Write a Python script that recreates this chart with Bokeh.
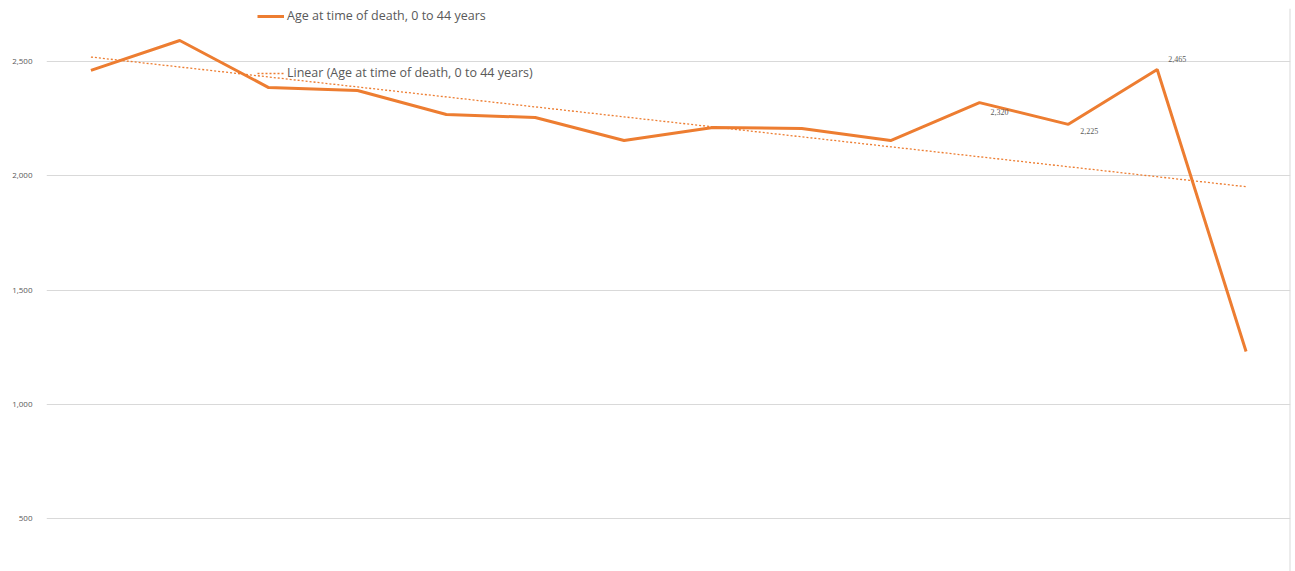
import numpy as np
from bokeh.plotting import figure
from bokeh.models import (ColumnDataSource, Legend, LegendItem, LabelSet, Span,
                          Range1d, NumeralTickFormatter, FixedTicker)
from bokeh.embed import file_html
from bokeh.resources import INLINE

# ---- data ----
period_index = list(range(1, 15))
deaths_0_44 = [2461, 2592, 2386, 2373, 2268, 2255, 2154, 2211, 2207, 2154, 2320, 2225, 2465, 1231]
labelled_points = [10, 11, 12]          # indices of points carrying a data label
label_dx = [11, 12, 11]
label_dy = [-9, -7, 11]
y_ticks = [500, 1000, 1500, 2000, 2500]

series_name = "Age at time of death, 0 to 44 years"
trend_name = "Linear (Age at time of death, 0 to 44 years)"

ORANGE = "#ED7D31"
GREY_TXT = "#595959"
GRID = "#D9D9D9"
FONT = "Open Sans"

# linear trendline (least squares)
x_arr = np.array(period_index, dtype=float)
slope, icpt = np.polyfit(x_arr, np.array(deaths_0_44, dtype=float), 1)
trend = slope * x_arr + icpt

src = ColumnDataSource(dict(x=period_index, y=deaths_0_44))
tsrc = ColumnDataSource(dict(x=period_index, y=trend))
lsrc = ColumnDataSource(dict(
    x=[period_index[i] for i in labelled_points],
    y=[deaths_0_44[i] for i in labelled_points],
    txt=[f"{deaths_0_44[i]:,}" for i in labelled_points],
    dx=label_dx, dy=label_dy,
))

p = figure(width=1292, height=571, output_backend="svg", toolbar_location=None,
           x_range=Range1d(0.5, 14.5), y_range=Range1d(268, 2732),
           min_border_left=46, min_border_right=2, min_border_top=8, min_border_bottom=0)
p.outline_line_color = None
p.background_fill_color = "white"
p.border_fill_color = "white"

p.xaxis.visible = False
p.xgrid.visible = False
p.yaxis.ticker = FixedTicker(ticks=y_ticks)
p.yaxis.formatter = NumeralTickFormatter(format="0,0")
p.yaxis.axis_line_color = None
p.yaxis.major_tick_line_color = None
p.yaxis.minor_tick_line_color = None
p.yaxis.major_label_text_font = FONT
p.yaxis.major_label_text_font_size = "8px"
p.yaxis.major_label_text_color = GREY_TXT
p.yaxis.major_label_standoff = 8
p.ygrid.ticker = FixedTicker(ticks=y_ticks)
p.ygrid.grid_line_color = GRID
p.ygrid.grid_line_width = 1

p.add_layout(Span(location=14.5, dimension="height", line_color=GRID, line_width=2))

r_trend = p.line("x", "y", source=tsrc, line_color=ORANGE, line_width=1.3, line_dash="2 2")
r_line = p.line("x", "y", source=src, line_color=ORANGE, line_width=3)

labels = LabelSet(x="x", y="y", text="txt", source=lsrc, x_offset="dx", y_offset="dy",
                  text_font=FONT, text_font_size="8px", text_color=GREY_TXT,
                  text_baseline="middle", text_align="left")
p.add_layout(labels)

def make_legend(item, loc):
    lg = Legend(items=[item], location=loc, orientation="vertical",
                glyph_width=27, glyph_height=16, label_height=16, label_standoff=3,
                padding=0, margin=0, spacing=0,
                border_line_color=None, background_fill_alpha=0,
                label_text_font=FONT, label_text_font_size="12.5px",
                label_text_color=GREY_TXT)
    return lg

p.add_layout(make_legend(LegendItem(label=series_name, renderers=[r_line]), (211, 547)))
p.add_layout(make_legend(LegendItem(label=trend_name, renderers=[r_trend]), (211, 490)))

open("out.html", "w").write(file_html(p, INLINE))
